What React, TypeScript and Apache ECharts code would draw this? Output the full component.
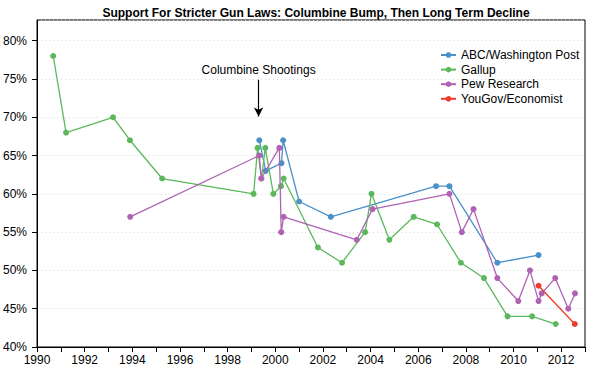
import React, { useEffect, useRef } from "react";
import * as echarts from "echarts";

const titleText = "Support For Stricter Gun Laws: Columbine Bump, Then Long Term Decline";
const seriesNames = ["ABC/Washington Post", "Gallup", "Pew Research", "YouGov/Economist"];
const seriesColors = ["#4a90c9", "#5cb85c", "#b062b4", "#ee3b2b"];

const abcYears = [1999.33, 1999.6, 2000.26, 2000.33, 2001.0, 2002.33, 2006.75, 2007.31, 2009.32, 2011.05];
const abcValues = [67, 63, 64, 67, 59, 57, 61, 61, 51, 52];

const gallupYears = [1990.68, 1991.22, 1993.19, 1993.9, 1995.25, 1999.09, 1999.26, 1999.42, 1999.58, 1999.92, 2000.24, 2000.35, 2001.79, 2002.8, 2003.77, 2004.04, 2004.79, 2005.81, 2006.79, 2007.79, 2008.76, 2009.75, 2010.78, 2011.77];
const gallupValues = [78, 68, 70, 67, 62, 60, 66, 62, 66, 60, 61, 62, 53, 51, 55, 60, 54, 57, 56, 51, 49, 44, 44, 43];

const pewYears = [1993.91, 1999.33, 1999.41, 2000.17, 2000.25, 2000.35, 2003.42, 2004.08, 2007.31, 2007.83, 2008.32, 2009.32, 2010.2, 2010.69, 2011.05, 2011.18, 2011.75, 2012.3, 2012.58];
const pewValues = [57, 65, 62, 66, 55, 57, 54, 58, 60, 55, 58, 49, 46, 50, 46, 47, 49, 45, 47];

const yougovYears = [2011.05, 2012.57];
const yougovValues = [48, 43];

const columbineDate = 1999.3;
const annotationText = "Columbine Shootings";

const FONT = "'Liberation Sans', Arial, Helvetica, sans-serif";

function zip(xs: number[], ys: number[]) {
  return xs.map((x, i) => [x, ys[i]]);
}

export default function App() {
  const ref = useRef<HTMLDivElement>(null);
  useEffect(() => {
    if (!ref.current) return;
    const chart = echarts.init(ref.current, undefined, { renderer: "svg" });
    const datasets = [
      zip(abcYears, abcValues),
      zip(gallupYears, gallupValues),
      zip(pewYears, pewValues),
      zip(yougovYears, yougovValues),
    ];
    const series: any[] = seriesNames.map((name, i) => ({
      name,
      type: "line",
      data: datasets[i],
      symbol: "circle",
      symbolSize: 6,
      showSymbol: true,
      lineStyle: { width: 1.3, color: seriesColors[i] },
      itemStyle: { color: seriesColors[i] },
      emphasis: { disabled: true },
      z: 3 + i,
    }));
    series[1].markLine = {
      silent: true,
      symbol: ["none", "arrow"],
      symbolSize: [7, 9],
      lineStyle: { color: "#000", type: "solid", width: 1.2 },
      label: {
        show: true,
        position: "start",
        formatter: annotationText,
        color: "#000",
        fontSize: 12,
        fontFamily: FONT,
        distance: 4,
      },
      data: [
        [
          { coord: [columbineDate, 74.9] },
          { coord: [columbineDate, 70.1] },
        ],
      ],
    };
    chart.setOption({
      animation: false,
      textStyle: { fontFamily: FONT },
      title: {
        text: titleText,
        left: 311,
        textAlign: "center",
        top: 2,
        textStyle: { fontSize: 12, fontWeight: "bold", color: "#000", fontFamily: FONT },
      },
      legend: {
        orient: "vertical",
        left: 440,
        top: 48,
        padding: 0,
        itemWidth: 15,
        itemHeight: 7,
        itemGap: 0.6,
        textStyle: { fontSize: 12, color: "#000", fontFamily: FONT, lineHeight: 14 },
        data: seriesNames,
      },
      grid: {
        left: 36.5,
        right: 16,
        top: 20,
        bottom: 27,
        show: true,
        borderColor: "#000",
        borderWidth: 1,
      },
      xAxis: {
        type: "value",
        min: 1990,
        max: 2013,
        interval: 1,
        axisLine: { show: true, lineStyle: { color: "#000", width: 1 } },
        axisTick: { show: true, length: 5, lineStyle: { color: "#000" } },
        splitLine: { show: false },
        axisLabel: {
          color: "#000",
          fontSize: 12,
          fontFamily: FONT,
          margin: 7,
          formatter: (v: number) => (v % 2 === 0 && v < 2013 ? String(v) : ""),
        },
      },
      yAxis: {
        type: "value",
        min: 40,
        max: 82.7,
        interval: 5,
        axisLine: { show: true, lineStyle: { color: "#000", width: 1 } },
        axisTick: { show: true, length: 5, lineStyle: { color: "#000" } },
        splitLine: { show: true, lineStyle: { color: "#d8d8d8", type: [1, 3], width: 1 } },
        axisLabel: {
          color: "#000",
          fontSize: 12,
          fontFamily: FONT,
          margin: 10,
          showMaxLabel: false,
          formatter: (v: number) => (v % 5 === 0 ? v + "%" : ""),
        },
      },
      series,
    });
    return () => chart.dispose();
  }, []);
  return <div ref={ref} style={{ width: 601, height: 374, position: "absolute", left: 0, top: 0 }} />;
}
